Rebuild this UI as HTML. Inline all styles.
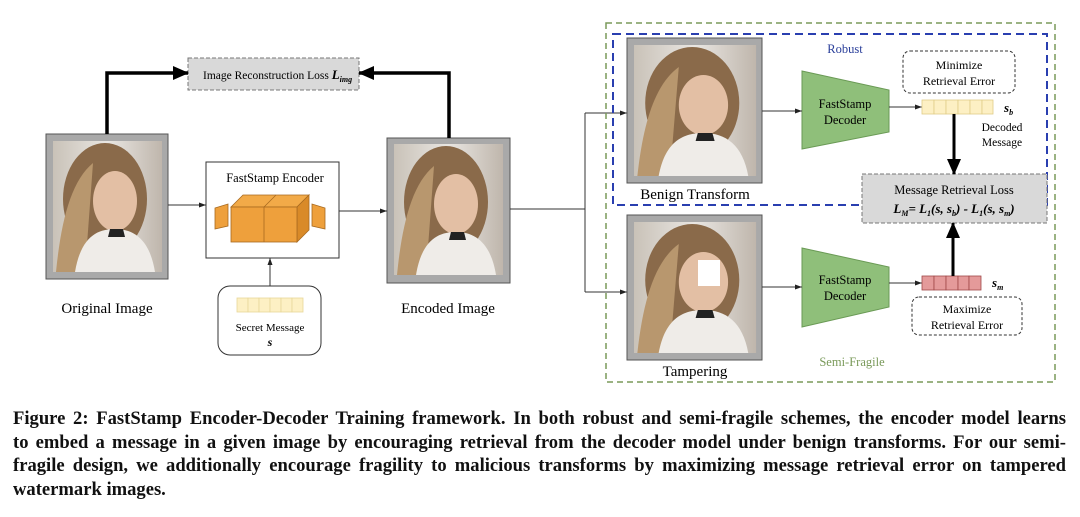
<!DOCTYPE html>
<html><head><meta charset="utf-8"><style>
body{margin:0;width:1080px;height:517px;background:#fff;overflow:hidden;position:relative}
svg{position:absolute;left:0;top:0}
.cap{position:absolute;left:13px;top:407px;width:1053px;font-family:"Liberation Serif",serif;font-weight:bold;font-size:18.6px;line-height:23.5px;color:#111}
.cap div{text-align:justify;text-align-last:justify;white-space:nowrap}
.cap div.l{text-align-last:left}
</style></head><body>
<svg width="1080" height="400" viewBox="0 0 1080 400" font-family="Liberation Serif, serif">
<defs>
<linearGradient id="bg" x1="0" x2="1"><stop offset="0" stop-color="#c9c2b8"/><stop offset="0.5" stop-color="#e9e6e2"/><stop offset="1" stop-color="#bfb6ac"/></linearGradient>
<marker id="a" markerWidth="8" markerHeight="8" refX="7" refY="4" orient="auto" markerUnits="userSpaceOnUse"><path d="M0,1.5 L7,4 L0,6.5z" fill="#222"/></marker>
<marker id="A" markerWidth="16" markerHeight="14" refX="15" refY="7" orient="auto" markerUnits="userSpaceOnUse"><path d="M0,0 L16,7 L0,14z" fill="#000"/></marker>
<g id="ph">
<rect x="0" y="0" width="109" height="131" fill="url(#bg)"/>
<ellipse cx="52" cy="58" rx="42" ry="56" fill="#8a6a4a"/>
<path d="M3,131 C8,80 18,40 40,22 L32,131z" fill="#b8976e"/>
<ellipse cx="62" cy="60" rx="22" ry="30" fill="#e3bfa4"/>
<path d="M22,131 C28,95 45,88 62,88 C82,88 97,100 102,131z" fill="#efece8"/>
<path d="M57,88 L70,88 L72,96 L55,96z" fill="#222"/>
</g>
</defs>
<rect x="46" y="134" width="122" height="145" fill="#a9a9a9" stroke="#555" stroke-width="1"/>
<use href="#ph" x="53" y="141"/>
<rect x="387" y="138" width="123" height="145" fill="#a9a9a9" stroke="#555" stroke-width="1"/>
<use href="#ph" x="394" y="144"/>
<text x="107" y="313" font-size="15" text-anchor="middle">Original Image</text>
<text x="448" y="313" font-size="15" text-anchor="middle">Encoded Image</text>
<rect x="188" y="58" width="171" height="32" fill="#d9d9d9" stroke="#777" stroke-dasharray="4,2"/>
<text x="203" y="79" font-size="11.5">Image Reconstruction Loss <tspan font-weight="bold" font-style="italic" font-size="13">L</tspan><tspan font-weight="bold" font-style="italic" font-size="8" dy="3">img</tspan></text>
<path d="M107,134 V73 H188" fill="none" stroke="#000" stroke-width="3.5" marker-end="url(#A)"/>
<path d="M449,138 V73 H359" fill="none" stroke="#000" stroke-width="3.5" marker-end="url(#A)"/>
<rect x="206" y="162" width="133" height="96" fill="#fff" stroke="#333"/>
<text x="275" y="182" font-size="12.5" text-anchor="middle">FastStamp Encoder</text>
<path d="M215,208 L228,204 L228,226 L215,229z" fill="#eea03c" stroke="#a86a20" stroke-width="0.8"/>
<path d="M325,208 L312,204 L312,226 L325,229z" fill="#eea03c" stroke="#a86a20" stroke-width="0.8"/>
<path d="M231,207 L243,195 L309,195 L297,207z" fill="#f2aa48" stroke="#a86a20" stroke-width="0.8"/>
<path d="M297,207 L309,195 L309,230 L297,242z" fill="#d98a28" stroke="#a86a20" stroke-width="0.8"/>
<rect x="231" y="207" width="66" height="35" fill="#eea03c" stroke="#a86a20" stroke-width="0.8"/>
<line x1="264" y1="207" x2="264" y2="242" stroke="#a86a20" stroke-width="0.8"/>
<line x1="264" y1="207" x2="276" y2="195" stroke="#a86a20" stroke-width="0.8"/>
<path d="M168,205 H206" stroke="#333" marker-end="url(#a)"/>
<path d="M339,211 H387" stroke="#333" marker-end="url(#a)"/>
<rect x="218" y="286" width="103" height="69" rx="12" fill="#fff" stroke="#333"/>
<g fill="#fdf0c4" stroke="#e8d79a" stroke-width="0.8">
<rect x="237" y="298" width="11" height="14"/><rect x="248" y="298" width="11" height="14"/><rect x="259" y="298" width="11" height="14"/><rect x="270" y="298" width="11" height="14"/><rect x="281" y="298" width="11" height="14"/><rect x="292" y="298" width="11" height="14"/></g>
<text x="270" y="331" font-size="11" text-anchor="middle">Secret Message</text>
<text x="270" y="346" font-size="12" font-weight="bold" font-style="italic" text-anchor="middle">s</text>
<path d="M270,286 V258" stroke="#333" marker-end="url(#a)"/>
<path d="M510,209 H585 M585,113 V292" fill="none" stroke="#333"/>
<path d="M585,113 H627" stroke="#333" marker-end="url(#a)"/>
<path d="M585,292 H627" stroke="#333" marker-end="url(#a)"/>
<rect x="606" y="23" width="449" height="359" fill="none" stroke="#7a9a5a" stroke-width="1.5" stroke-dasharray="6,4"/>
<rect x="613" y="34" width="434" height="171" fill="none" stroke="#2a3fb0" stroke-width="2" stroke-dasharray="8,5"/>
<text x="845" y="53" font-size="12.5" fill="#2a3f9a" text-anchor="middle">Robust</text>
<text x="852" y="366" font-size="12.5" fill="#7a9a5a" text-anchor="middle">Semi-Fragile</text>
<rect x="627" y="38" width="135" height="145" fill="#a9a9a9" stroke="#555"/>
<g transform="translate(634,45) scale(1.12,1)"><use href="#ph"/></g>
<rect x="627" y="215" width="135" height="145" fill="#a9a9a9" stroke="#555"/>
<g transform="translate(634,222) scale(1.12,1)"><use href="#ph"/></g>
<rect x="698" y="260" width="22" height="26" fill="#fff"/>
<text x="695" y="199" font-size="15" text-anchor="middle">Benign Transform</text>
<text x="695" y="376" font-size="15" text-anchor="middle">Tampering</text>
<path d="M802,71 L889,90 L889,132 L802,149z" fill="#8fbf7a" stroke="#6a9a55"/>
<path d="M802,248 L889,267 L889,307 L802,327z" fill="#8fbf7a" stroke="#6a9a55"/>
<text x="845" y="108" font-size="12.5" text-anchor="middle">FastStamp</text>
<text x="845" y="124" font-size="12.5" text-anchor="middle">Decoder</text>
<text x="845" y="284" font-size="12.5" text-anchor="middle">FastStamp</text>
<text x="845" y="300" font-size="12.5" text-anchor="middle">Decoder</text>
<path d="M762,111 H802" stroke="#333" marker-end="url(#a)"/>
<path d="M762,287 H802" stroke="#333" marker-end="url(#a)"/>
<path d="M889,107 H922" stroke="#333" marker-end="url(#a)"/>
<path d="M889,283 H922" stroke="#333" marker-end="url(#a)"/>
<g fill="#fdf0c4" stroke="#e0cc88" stroke-width="0.8">
<rect x="922" y="100" width="12" height="14"/><rect x="934" y="100" width="12" height="14"/><rect x="946" y="100" width="12" height="14"/><rect x="958" y="100" width="12" height="14"/><rect x="970" y="100" width="12" height="14"/><rect x="982" y="100" width="11" height="14"/></g>
<g fill="#e49a9a" stroke="#a04848" stroke-width="0.8">
<rect x="922" y="276" width="12" height="14"/><rect x="934" y="276" width="12" height="14"/><rect x="946" y="276" width="12" height="14"/><rect x="958" y="276" width="11" height="14"/><rect x="969" y="276" width="12" height="14"/></g>
<text x="1004" y="112" font-size="13" font-weight="bold" font-style="italic">s<tspan font-size="8" dy="3">b</tspan></text>
<text x="992" y="287" font-size="13" font-weight="bold" font-style="italic">s<tspan font-size="8" dy="3">m</tspan></text>
<text x="1002" y="131" font-size="11.5" text-anchor="middle">Decoded</text>
<text x="1002" y="146" font-size="11.5" text-anchor="middle">Message</text>
<rect x="903" y="51" width="112" height="42" rx="7" fill="#fff" stroke="#333" stroke-dasharray="3,2"/>
<text x="959" y="69" font-size="12" text-anchor="middle">Minimize</text>
<text x="959" y="85" font-size="12" text-anchor="middle">Retrieval Error</text>
<rect x="912" y="297" width="110" height="38" rx="7" fill="#fff" stroke="#333" stroke-dasharray="3,2"/>
<text x="967" y="313" font-size="12" text-anchor="middle">Maximize</text>
<text x="967" y="329" font-size="12" text-anchor="middle">Retrieval Error</text>
<rect x="862" y="174" width="185" height="49" fill="#d9d9d9" stroke="#777" stroke-dasharray="4,2"/>
<text x="954" y="194" font-size="12.5" text-anchor="middle">Message Retrieval Loss</text>
<text x="954" y="213" font-size="13" font-weight="bold" font-style="italic" text-anchor="middle">L<tspan font-size="8" dy="3">M</tspan><tspan dy="-3">= L</tspan><tspan font-size="8" dy="3">1</tspan><tspan dy="-3">(s, s</tspan><tspan font-size="8" dy="3">b</tspan><tspan dy="-3">) - L</tspan><tspan font-size="8" dy="3">1</tspan><tspan dy="-3">(s, s</tspan><tspan font-size="8" dy="3">m</tspan><tspan dy="-3">)</tspan></text>
<path d="M954,114 V174" stroke="#000" stroke-width="3" marker-end="url(#A)"/>
<path d="M953,276 V223" stroke="#000" stroke-width="3" marker-end="url(#A)"/>
</svg>
<div class="cap">
<div>Figure 2: FastStamp Encoder-Decoder Training framework. In both robust and semi-fragile schemes, the encoder model learns</div>
<div>to embed a message in a given image by encouraging retrieval from the decoder model under benign transforms. For our semi-</div>
<div>fragile design, we additionally encourage fragility to malicious transforms by maximizing message retrieval error on tampered</div>
<div class="l">watermark images.</div>
</div>
</body></html>
